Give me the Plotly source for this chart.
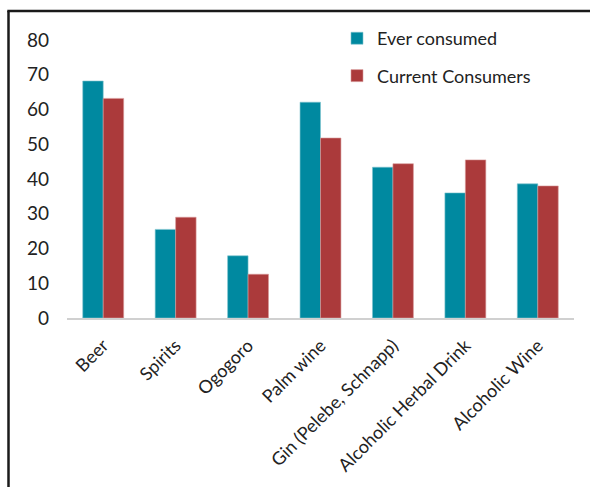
import plotly.graph_objects as go

categories = ["Beer", "Spirits", "Ogogoro", "Palm wine", "Gin (Pelebe, Schnapp)",
              "Alcoholic Herbal Drink", "Alcoholic Wine"]
ever_consumed = [68.2, 25.5, 17.9, 62.1, 43.4, 36.0, 38.6]
current_consumers = [63.2, 29.0, 12.6, 51.8, 44.4, 45.5, 38.0]
y_ticks = [0, 10, 20, 30, 40, 50, 60, 70, 80]

TEAL = "#0089A0"
RED = "#AB3A3B"
FONT = "Lato"

fig = go.Figure()
fig.add_trace(go.Bar(x=categories, y=ever_consumed, name="Ever consumed",
                     marker=dict(color=TEAL, line=dict(color="#7FC4CF", width=0.6)),
                     legendgroup="a"))
fig.add_trace(go.Bar(x=categories, y=current_consumers, name="Current Consumers",
                     marker=dict(color=RED, line=dict(color="#D99A9A", width=0.6)),
                     legendgroup="b"))

L, R, T, B = 67, 574, 40, 318.5
W, H = 590, 487

def px(x):
    return (x - L) / (R - L)

def py(y):
    return (B - y) / (B - T)

fig.update_layout(
    width=W, height=H,
    margin=dict(l=L, r=W - R, t=T, b=H - B, pad=0, autoexpand=False),
    paper_bgcolor="white", plot_bgcolor="white",
    barmode="group", bargap=0.435, bargroupgap=0,
    font=dict(family=FONT, size=17, color="#222222"),
    showlegend=True,
    legend=dict(x=px(337), y=py(20), xanchor="left", yanchor="top",
                bgcolor="rgba(0,0,0,0)", traceorder="grouped",
                tracegroupgap=11, font=dict(family=FONT, size=18, color="#222222"),
                itemwidth=30),
    xaxis=dict(showline=True, linecolor="#D0D0D0", linewidth=2, automargin=False,
               showgrid=False, tickangle=-45, ticks="",
               ticklabelstandoff=8,
               tickfont=dict(family=FONT, size=18, color="#222222")),
    yaxis=dict(range=[0, 80], tickvals=y_ticks, showgrid=False, zeroline=False,
               showline=False, ticks="", ticklabelstandoff=17, automargin=False,
               tickfont=dict(family=FONT, size=19, color="#222222")),
    shapes=[
        dict(type="line", xref="paper", yref="paper",
             x0=px(8.5), x1=px(8.5), y0=py(11), y1=py(490),
             line=dict(color="#1a1a1a", width=2.5)),
        dict(type="line", xref="paper", yref="paper",
             x0=px(7.3), x1=px(592), y0=py(11), y1=py(11),
             line=dict(color="#1a1a1a", width=2.5)),
    ],
)

fig.write_html("out.html", config={"displayModeBar": False},
               post_script="document.body.style.margin='0';document.body.style.overflow='hidden';")
